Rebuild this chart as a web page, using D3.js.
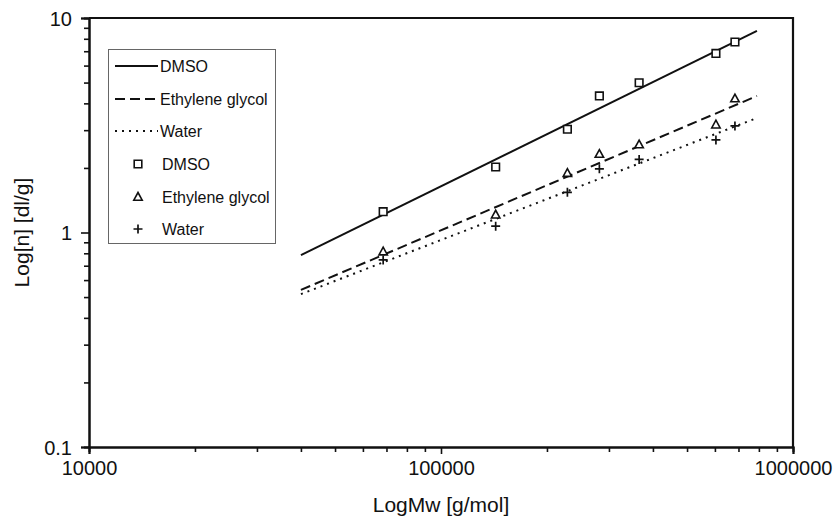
<!DOCTYPE html>
<html>
<head>
<meta charset="utf-8">
<script src="https://cdn.jsdelivr.net/npm/d3@7"></script>
<style>
  body { margin: 0; background: #fff; }
  text { font-family: "Liberation Sans", Arial, sans-serif; fill: #111; }
</style>
</head>
<body>
<div id="chart"></div>
<script>
// measured points (Mw in g/mol, [n] in dl/g)
const mw = [68500, 143000, 228600, 281800, 365500, 604000, 684000]
const dmso = [1.25, 2.02, 3.03, 4.33, 4.99, 6.84, 7.73]
const glycol = [0.814, 1.21, 1.89, 2.32, 2.57, 3.18, 4.21]
const water = [0.745, 1.07, 1.54, 1.98, 2.19, 2.70, 3.14]
// fitted power-law lines, given by their two end points
const fitMw = [40000, 790000]
const fitDmso = [0.785, 8.7]
const fitGlycol = [0.54, 4.33]
const fitWater = [0.516, 3.42]
const xTicks = [10000, 100000, 1000000]
const yTicks = [0.1, 1, 10]

const width = 840, height = 518
const svg = d3.select('#chart').append('svg')
  .attr('width', width).attr('height', height)

let x = d3.scaleLog().domain([1e4, 1e6]).range([89, 793])
let y = d3.scaleLog().domain([0.1, 10]).range([447, 18])

// minor ticks: 2..9 of each decade
let minor = (lo, hi) => {
  let out = []
  for (let p = lo; p < hi; p *= 10)
    for (let k = 2; k <= 9; k++) out.push(p * k)
  return out
}

let gx = svg.append('g').attr('transform', `translate(0,${y(0.1)})`)
gx.call(d3.axisBottom(x).tickValues(minor(1e4, 1e6)).tickSize(5).tickFormat(''))
gx.call(g => g.append('g').call(d3.axisBottom(x).tickValues(xTicks).tickSize(7).tickFormat(d3.format('d'))))
gx.selectAll('text').attr('font-size', 20).attr('y', 28).attr('dy', 0)

let gy = svg.append('g').attr('transform', `translate(${x(1e4)},0)`)
gy.call(d3.axisLeft(y).tickValues(minor(0.1, 10)).tickSize(5).tickFormat(''))
gy.call(g => g.append('g').call(d3.axisLeft(y).tickValues(yTicks).tickSize(8).tickFormat(d => d)))
gy.selectAll('text').attr('font-size', 20).attr('dy', '0.36em').attr('x', -17)

svg.selectAll('.domain').attr('stroke', '#111').attr('stroke-width', 2)
svg.selectAll('.tick line').attr('stroke', '#111').attr('stroke-width', 1.6)

// top and right frame
svg.append('path')
  .attr('d', `M${x(1e4)},${y(10)}H${x(1e6)}V${y(0.1)}`)
  .attr('fill', 'none').attr('stroke', '#111').attr('stroke-width', 2.2)

// axis titles
svg.append('text').attr('x', 441).attr('y', 512).attr('text-anchor', 'middle')
  .attr('font-size', 21).text('LogMw [g/mol]')
svg.append('text').attr('transform', `translate(29,${y(1)}) rotate(-90)`)
  .attr('text-anchor', 'middle').attr('font-size', 21).text('Log[n] [dl/g]')

// fitted lines
let series = [
  { name: 'DMSO', fit: fitDmso, pts: dmso, dash: null, mark: 'square' },
  { name: 'Ethylene glycol', fit: fitGlycol, pts: glycol, dash: '10,5', mark: 'triangle' },
  { name: 'Water', fit: fitWater, pts: water, dash: '2,5', mark: 'plus' }
]
let line = d3.line().x(d => x(d[0])).y(d => y(d[1]))
series.forEach(s => {
  svg.append('path')
    .attr('d', line(fitMw.map((m, i) => [m, s.fit[i]])))
    .attr('fill', 'none').attr('stroke', '#111').attr('stroke-width', 2)
    .attr('stroke-dasharray', s.dash)
})

let markPath = {
  square: 'M-3.8,-3.8H3.8V3.8H-3.8Z',
  triangle: 'M0,-4.5L4.2,3.2H-4.2Z',
  plus: 'M-4.5,0H4.5M0,-4.5V4.5'
}
let drawMark = (g, kind, cx, cy) => g.append('path')
  .attr('transform', `translate(${cx},${cy})`)
  .attr('d', markPath[kind])
  .attr('fill', kind == 'plus' ? 'none' : '#fff')
  .attr('stroke', '#111').attr('stroke-width', kind == 'plus' ? 1.7 : 1.6)

series.forEach(s => {
  s.pts.forEach((v, i) => drawMark(svg, s.mark, x(mw[i]), y(v)))
})

// legend
let lg = svg.append('g')
lg.append('rect').attr('x', 108.5).attr('y', 49.5).attr('width', 167).attr('height', 194)
  .attr('fill', '#fff').attr('stroke', '#666').attr('stroke-width', 1)
let rowY = [66, 99, 131, 164, 197, 229]
series.forEach((s, i) => {
  lg.append('line').attr('x1', 115).attr('x2', 158).attr('y1', rowY[i]).attr('y2', rowY[i])
    .attr('stroke', '#111').attr('stroke-width', 1.8).attr('stroke-dasharray', s.dash)
  lg.append('text').attr('x', 160).attr('y', rowY[i]).attr('dy', '0.36em')
    .attr('font-size', 16).text(s.name)
})
series.forEach((s, i) => {
  drawMark(lg, s.mark, 138, rowY[i + 3])
  lg.append('text').attr('x', 162).attr('y', rowY[i + 3]).attr('dy', '0.36em')
    .attr('font-size', 16).text(s.name)
})
</script>
</body>
</html>
